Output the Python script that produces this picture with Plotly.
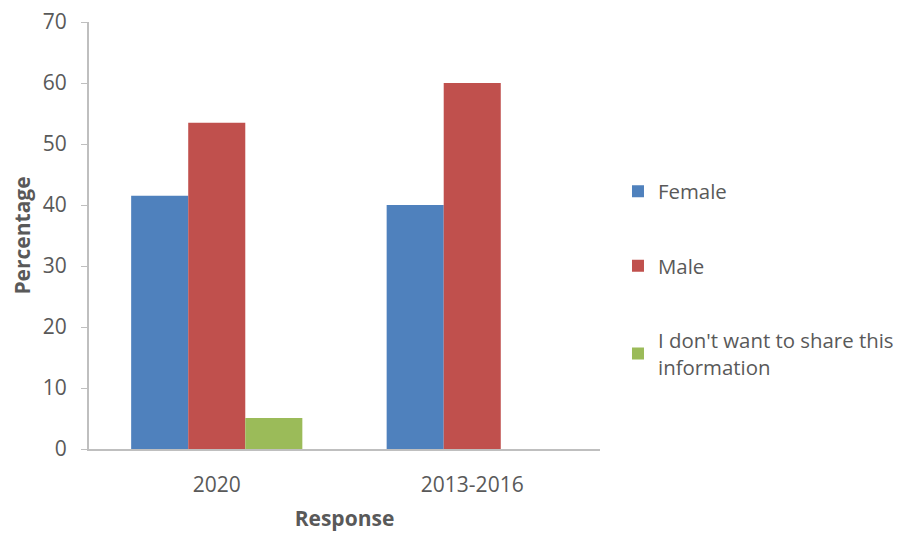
import plotly.graph_objects as go

# %%
categories = ["2020", "2013-2016"]
female = [41.5, 40.0]
male = [53.5, 60.0]
no_share = [5.1, None]

series = [
    ("Female", female, "#4F81BD"),
    ("Male", male, "#C0504D"),
    ("I don't want to share this<br>information", no_share, "#9BBB59"),
]

# %%
fig = go.Figure()
for name, vals, col in series:
    fig.add_trace(go.Bar(
        x=categories,
        y=vals,
        name=name,
        legendgroup=name,
        marker=dict(color=col, line=dict(width=0)),
    ))

# page body has an 8px margin; the figure is made a bit wider than the window
# so the legend never pushes the margins, the extra part is just off-screen
font = "Open Sans, Liberation Sans, sans-serif"
fig.update_layout(
    width=930,
    height=526,
    barmode="group",
    bargap=0.33,
    bargroupgap=0,
    plot_bgcolor="white",
    paper_bgcolor="white",
    margin=dict(l=81, r=8, t=14, b=85),
    font=dict(family=font, size=21, color="#595959"),
    legend=dict(
        x=0.629, y=0.65, xanchor="left", yanchor="top",
        traceorder="grouped", tracegroupgap=45,
        font=dict(size=20.4, color="#595959"),
        itemwidth=30,
    ),
)
fig.update_yaxes(
    range=[0, 70], dtick=10, showgrid=False, automargin=False,
    showline=True, linecolor="#bfbfbf", linewidth=2,
    ticks="outside", ticklen=6, tickcolor="#bfbfbf",
    ticklabelstandoff=10, ticklabeloverflow="allow",
    title=dict(text="<b>Percentage</b>", font=dict(size=21, color="#595959"), standoff=10),
)
fig.update_xaxes(
    domain=[0, 0.6076], automargin=False,
    showline=True, linecolor="#bfbfbf", linewidth=2,
    ticks="", showgrid=False, ticklabelstandoff=16,
    title=dict(text="<b>Response</b>", font=dict(size=21, color="#595959"), standoff=14),
)
fig.write_html("out.html")
